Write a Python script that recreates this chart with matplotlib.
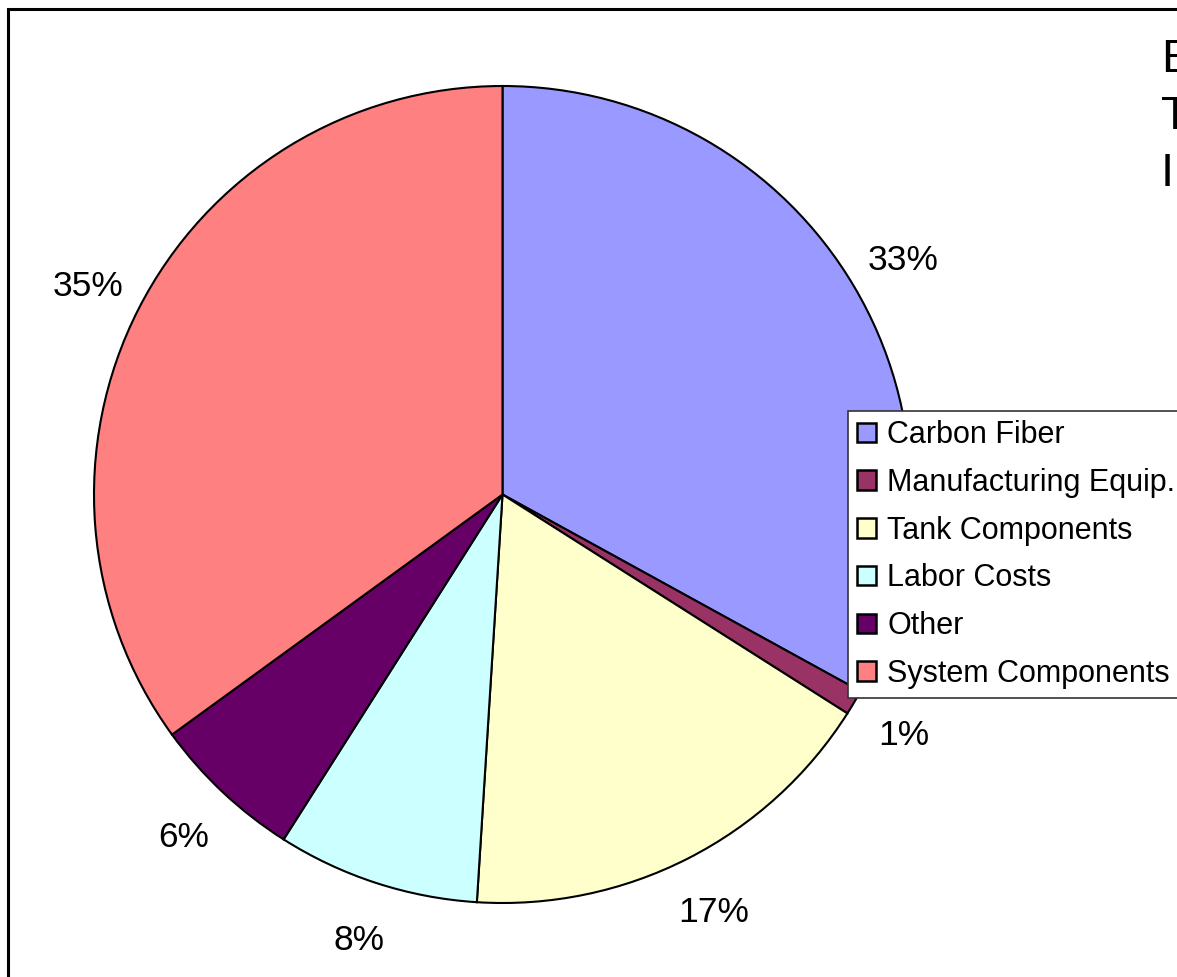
import matplotlib

matplotlib.use("Agg")
import matplotlib.pyplot as plt
from matplotlib.patches import Patch, Rectangle

CATEGORIES = [
    "Carbon Fiber",
    "Manufacturing Equip.",
    "Tank Components",
    "Labor Costs",
    "Other",
    "System Components",
]
SHARES = [33, 1, 17, 8, 6, 35]
COLORS = ["#9999FF", "#993366", "#FFFFCC", "#CCFFFF", "#660066", "#FF8080"]
TITLE_LINES = ["Estimated", "Tank System", "Installed Cost"]

W, H = 1177, 977


def fx(px):
    return px / W


def fy(py):
    return 1 - py / H


def main():
    plt.rcParams["font.family"] = ["Liberation Sans", "DejaVu Sans"]
    fig = plt.figure(figsize=(W / 100, H / 100), dpi=100)

    # outer chart frame, running off the right and bottom edges
    fig.patches.append(
        Rectangle((fx(8), fy(1200)), 2.0, fy(9) - fy(1200), transform=fig.transFigure,
                  fill=False, edgecolor="black", linewidth=2.2)
    )

    ax = fig.add_axes([fx(94), fy(903), fx(911) - fx(94), fy(86) - fy(903)])
    _, texts = ax.pie(
        SHARES,
        colors=COLORS,
        startangle=90,
        counterclock=False,
        labels=[f"{v}%" for v in SHARES],
        labeldistance=1.14,
        textprops={"fontsize": 25.5},
        wedgeprops={"edgecolor": "black", "linewidth": 1.5},
    )
    for t in texts:
        t.set_ha("center")
        t.set_va("center_baseline")
    ax.set_xlim(-1, 1)
    ax.set_ylim(-1, 1)
    ax.set_aspect("equal")
    ax.axis("off")

    handles = [Patch(facecolor=c, edgecolor="black", linewidth=1.8) for c in COLORS]
    leg = fig.legend(
        handles,
        CATEGORIES,
        loc="upper left",
        bbox_to_anchor=(fx(848), fy(411)),
        fontsize=22,
        frameon=True,
        fancybox=False,
        edgecolor="#333333",
        framealpha=1,
        handlelength=0.6,
        handleheight=0.6,
        handletextpad=0.38,
        labelspacing=0.58,
        borderpad=0.3,
        borderaxespad=0,
    )
    leg.get_frame().set_linewidth(1.2)

    for i, line in enumerate(TITLE_LINES):
        fig.text(fx(1161), fy(72 + i * 57), line, fontsize=34, ha="left", va="baseline")

    fig.savefig("out.png", dpi=100)


if __name__ == "__main__":
    main()
